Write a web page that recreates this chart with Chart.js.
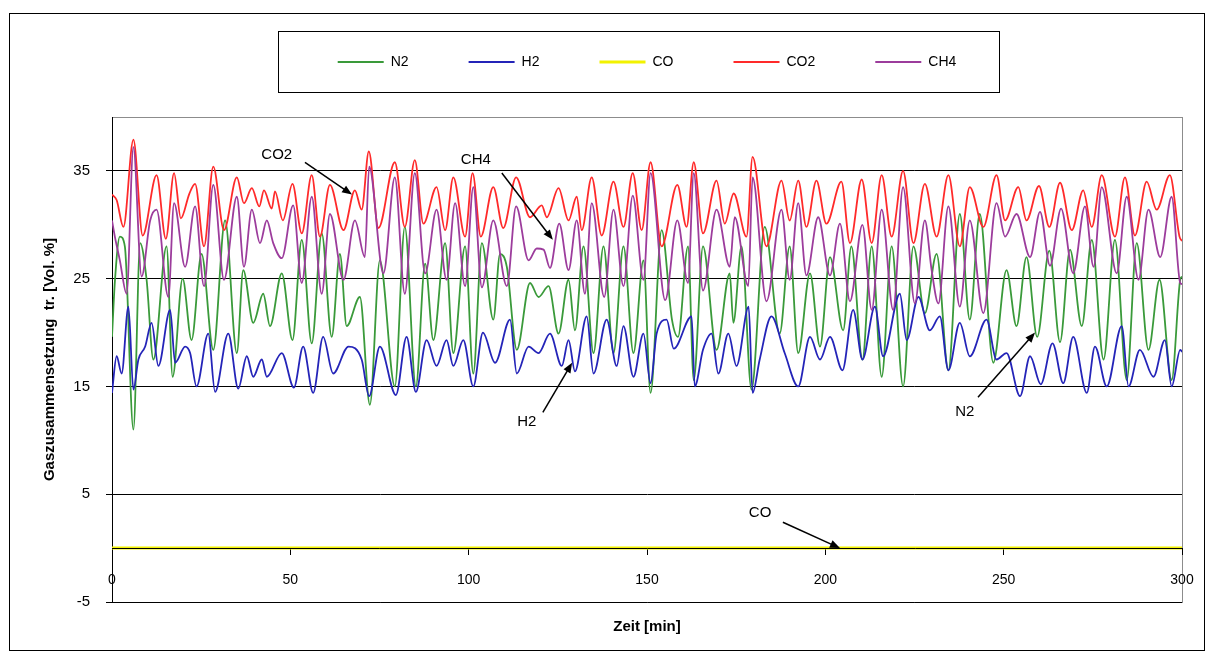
<!DOCTYPE html>
<html><head><meta charset="utf-8">
<script src="https://cdn.jsdelivr.net/npm/chart.js@4/dist/chart.umd.min.js"></script>
<style>html,body{margin:0;padding:0;background:#fff;}canvas{display:block;}</style>
</head><body>
<canvas id="c" width="1213" height="658"></canvas>
<script>
// ---------- data (time in min, composition in Vol.-%) ----------
const seriesNames = ['N2', 'H2', 'CO', 'CO2', 'CH4'];

const n2Time = [0,0.8,2.2,3.6,6,7.9,9.7,11.6,15.3,17,19.8,22.3,25.1,28.4,31.7,35,36.8,39.6,42.4,44.3,47.6,50.6,53.2,56,58.8,61.6,63.9,65.8,69.5,72.3,75.1,79.3,82.1,85.2,87.8,90.1,93.4,95.7,99,101.3,103.7,106.9,108.8,110.7,113.5,117.2,119.6,122.4,125.2,128,129.8,132.2,135,137.8,140.6,143.4,146.2,149,151,154.1,157,158.7,161.5,163.1,165.7,169.5,173.2,174.2,176.5,179.3,183,187.2,190,192.4,195.7,198.5,201.3,205,207.3,210.4,213,215.8,218.6,221.8,224.7,227.9,231.2,234.5,237.7,240.5,243.3,247.1,250.8,253.6,256.4,259.4,262.8,265.8,268.6,271.9,274.7,278,281.2,284.5,287.3,290.6,293.7,297.1,299.5,300];
const n2Vol = [19.6,24.7,28.9,28.0,11.0,28.3,24.9,17.5,28.0,15.9,25.0,19.3,27.3,18.4,30.4,18.1,25.8,20.9,23.6,20.6,25.5,19.3,28.6,19.0,29.2,19.6,27.3,20.6,23.3,13.3,26.7,15.0,29.8,15.0,26.4,19.3,28.3,18.1,28.0,16.2,28.3,21.2,27.3,26.1,18.4,24.6,23.3,24.3,19.9,24.9,20.2,28.0,18.1,28.0,18.1,28.0,18.1,26.7,14.4,29.5,21.2,19.6,28.0,15.6,28.0,18.4,25.5,20.9,28.0,14.7,29.8,19.9,28.0,18.1,25.5,18.7,27.0,20.2,28.0,17.5,28.0,15.9,28.0,15.0,28.0,21.8,27.3,16.5,31.0,21.2,31.0,17.2,25.8,20.6,27.0,19.6,27.6,19.1,27.7,20.6,28.6,17.5,28.6,15.6,28.3,18.4,24.9,15.6,24.9,25.2];

const h2Time = [0,1.3,2.7,4.6,6,7.4,9.3,11.1,13,16.3,17.7,20.5,21.9,23.7,27,28.9,32.6,35.4,37.8,39.6,42,43.4,47.6,51,53.6,56.4,59.2,62,66.3,70,72.1,75.1,79.6,82.6,85.2,88.2,91,93.8,95.7,98.5,101.3,104,107.4,111.6,113.5,116.8,119.6,122.8,126.1,128,129.8,133.1,135,138.7,141.5,143.4,146.2,149,151,152.7,155.5,157.5,162.5,163.4,165.7,168.1,170,172.8,175.1,178.5,179.6,181.6,184.9,188.6,192.4,195.7,198.5,201.3,204.8,207.8,210.4,213.9,216.2,220.9,222.8,226.1,229.3,232.1,234.5,237.7,240.5,245.2,248,250.8,254.6,257.4,260.4,263.7,266.7,269.5,273.3,275.6,278.9,283.1,285,288.2,292,295.2,297.1,299.5,300];
const h2Vol = [14.4,17.8,16.2,22.4,14.7,17.5,18.7,20.9,16.9,22.1,17.2,18.7,18.1,15.0,19.9,14.5,19.9,14.8,17.8,15.9,17.5,15.9,18.1,14.9,18.7,14.4,19.6,16.2,18.7,17.5,14.1,18.7,14.2,19.6,14.5,19.3,16.9,19.3,16.9,19.3,15.0,20.0,17.2,21.2,16.2,18.7,18.1,19.9,16.9,19.3,16.4,21.5,16.2,21.2,16.9,20.6,15.9,19.9,15.3,19.9,21.2,18.5,21.5,15.0,18.4,19.9,16.2,19.9,16.9,22.4,14.4,17.5,21.5,18.1,15.0,19.6,17.5,19.6,16.5,22.1,17.5,22.4,17.8,23.6,19.3,23.3,20.2,21.5,16.5,20.9,17.8,21.2,17.5,18.1,14.1,17.8,15.2,19.0,15.3,19.6,14.4,18.7,15.0,20.6,15.0,18.4,15.9,19.3,15.0,18.4,18.2];

const coTime = [0,50,100,150,200,250,300];
const coVol = [0,0,0,0,0,0,0];

const co2Time = [0,1.3,3.2,6,8.6,12.5,15.1,17.4,19.3,21.7,23.3,25.8,28.4,31.4,35,37,39.2,41.3,42.6,44.8,45.7,47.9,50.6,53.2,56,58.3,61.1,64.9,68.1,70,72,74.7,79.3,82.1,84.9,87.3,91,93.4,95.7,99,101.1,103.4,106.9,109.7,113.3,117.2,120.5,121.9,125.2,128,130.3,131.7,134.5,137.3,140.6,143.4,146,148.5,151,154.1,158.5,161.1,163.1,165.7,169.5,171.8,174.3,177.9,179.6,183.5,187.7,190,192.4,194.7,197.5,200.3,204.5,206.9,210.2,213,215.8,218.6,221.8,224.7,227.9,231.2,234.5,237.7,240.5,244.3,248,250.4,254.1,256.4,259.9,262.8,265.8,269.1,272.3,274.7,277.5,281.2,284,286.8,290.1,292.9,296.6,299.3,300];
const co2Vol = [32.8,32.3,29.8,37.9,29.0,34.6,28.7,34.8,30.6,32.9,33.8,28.0,35.4,29.5,34.4,32.0,33.4,31.7,33.2,31.5,33.1,30.4,33.8,29.2,34.6,28.9,33.7,29.5,33.2,31.4,36.8,29.7,35.8,29.8,36.0,30.1,33.5,29.5,34.4,28.9,34.8,28.9,33.5,29.7,34.4,30.7,31.8,30.7,33.4,30.4,32.6,29.5,34.4,29.0,34.0,29.8,34.8,29.5,35.8,28.0,33.7,29.8,35.8,29.2,34.1,30.1,32.9,28.9,36.3,28.0,34.1,30.4,34.1,29.8,34.1,30.1,34.0,28.3,34.2,28.3,34.6,28.9,35.0,28.3,33.8,28.9,34.6,28.0,33.5,29.8,34.6,30.4,33.5,30.4,33.6,29.8,33.9,29.5,33.2,29.8,34.6,28.9,34.4,29.0,34.0,31.4,34.6,28.9,28.5];

const ch4Time = [0,0.8,2.2,4.1,6,8.3,10.7,12.5,15.8,17.4,20.5,23.3,25.8,28.4,31.4,35,37,39.2,41.5,43.4,45.2,47.6,50.8,53.2,56,58.8,61.1,64.9,68.1,70.9,72.1,76.1,79.3,82.1,84.9,87.8,91,93.8,96.2,99,101.3,103.7,106.9,110.7,113.3,116.8,119.1,121,122.8,125.4,128,130.3,132.6,134.5,138,140.6,143.4,146,149,151,155.1,158.5,161.5,163.1,165.7,169.5,173.2,174.6,178.4,179.6,183.5,187.7,190,192.4,194.7,198,201.3,204.1,206.9,210.4,213,215.8,219,221.8,225.1,227.9,229.8,231.7,234.5,237.7,240.5,244.3,248,250.4,253.6,257.4,260.2,263,266.1,269.5,272.8,275.2,277.5,281.7,284.5,287.8,290.6,293.9,297.1,299.5,300];
const ch4Vol = [30.4,28.9,26.7,23.6,37.2,25.2,30.4,31.4,23.3,32.0,26.1,31.7,24.3,33.7,24.9,32.6,26.1,31.4,28.3,30.4,28.3,26.9,31.8,24.6,32.6,23.6,31.0,24.9,30.4,27.0,35.4,25.5,34.4,23.6,34.8,25.5,31.4,24.9,32.0,24.3,33.5,24.2,30.4,24.3,31.7,26.7,27.8,27.7,26.0,30.1,25.8,30.4,23.6,32.0,23.3,31.4,24.3,32.7,24.9,34.8,23.0,30.4,24.6,34.8,23.9,31.4,26.1,30.7,24.3,34.4,22.9,31.4,24.9,32.0,25.3,30.7,25.3,30.1,22.9,30.0,22.1,31.4,22.1,33.5,22.7,30.4,25.8,22.7,31.7,22.4,30.4,21.8,32.0,28.9,31.0,27.0,31.2,26.2,31.5,25.5,31.7,26.1,33.5,25.5,32.6,24.9,31.4,27.0,32.6,24.6,24.5];

const yTickValues = [-5, 5, 15, 25, 35];
const xTickStep = 50;

// callouts: label, text anchor (time, value), arrow start, arrow end
const calloutLabels = ['CO2', 'CH4', 'H2', 'N2', 'CO'];
const calloutText  = [[46.2, 36.5], [102, 36.0], [116.3, 11.7], [239.1, 12.6], [181.7, 3.3]];
const calloutFrom  = [[54.1, 35.8], [109.3, 34.8], [120.8, 12.6], [242.8, 14.0], [188.1, 2.4]];
const calloutTo    = [[67.3, 32.8], [123.6, 28.6], [129.0, 17.2], [258.8, 20.0], [204.1, 0.0]];

// ---------- styling ----------
const FONT = "'Liberation Sans', Arial, sans-serif";
const colors = {N2: '#3a9a3a', H2: '#2424b8', CO: '#f2f200', CO2: '#ff2a2a', CH4: '#9c3c9c'};

function toPoints(t, v) { return t.map((x, i) => ({x: x, y: v[i]})); }
const seriesData = {
  N2: toPoints(n2Time, n2Vol), H2: toPoints(h2Time, h2Vol), CO: toPoints(coTime, coVol),
  CO2: toPoints(co2Time, co2Vol), CH4: toPoints(ch4Time, ch4Vol)
};

const datasets = seriesNames.map((name, i) => ({
  label: name,
  data: seriesData[name],
  borderColor: colors[name],
  backgroundColor: colors[name],
  borderWidth: name === 'CO' ? 3 : 1.8,
  pointRadius: 0,
  cubicInterpolationMode: 'monotone',
  tension: 0.4,
  order: seriesNames.length - i
}));

const LEGEND_TEXT_Y = 62;

const framePlugin = {
  id: 'frame',
  beforeDraw(chart) {
    const {ctx, chartArea: a} = chart;
    ctx.save();
    ctx.strokeStyle = '#000'; ctx.lineWidth = 1;
    ctx.strokeRect(9.5, 13.5, 1195, 637);
    ctx.strokeStyle = '#8c8c8c';
    ctx.strokeRect(Math.round(a.left) + 0.5, Math.round(a.top) + 0.5, Math.round(a.right - a.left), Math.round(a.bottom - a.top));
    ctx.restore();
  }
};

const legendLayoutPlugin = {
  id: 'legendLayout',
  afterInit(chart) {
    const lg = chart.legend;
    const proto = Object.getPrototypeOf(lg);
    lg.fit = function () { proto.fit.call(this); this.height = 117; };
  },
  afterLayout(chart) {
    const lg = chart.legend;
    const fs = lg.options.labels.font.size;
    lg.top = LEGEND_TEXT_Y - lg.options.labels.padding - fs / 2;
  },
  afterDraw(chart) {
    const lg = chart.legend;
    const hb = lg.legendHitBoxes;
    if (!hb || !hb.length) return;
    const first = hb[0], last = hb[hb.length - 1];
    const ctx = chart.ctx;
    ctx.save();
    ctx.strokeStyle = '#000'; ctx.lineWidth = 1;
    const l = Math.round(first.left - 60) + 0.5, r = Math.round(last.left + last.width + 43) + 0.5;
    ctx.strokeRect(l, 31.5, r - l, 61);
    ctx.restore();
  }
};

const calloutPlugin = {
  id: 'callouts',
  afterDatasetsDraw(chart) {
    const {ctx, scales: {x, y}} = chart;
    ctx.save();
    ctx.font = '15px ' + FONT;
    ctx.fillStyle = '#000';
    ctx.strokeStyle = '#000';
    ctx.textAlign = 'center';
    ctx.textBaseline = 'middle';
    calloutLabels.forEach((lab, i) => {
      ctx.fillText(lab, x.getPixelForValue(calloutText[i][0]), y.getPixelForValue(calloutText[i][1]));
      const x1 = x.getPixelForValue(calloutFrom[i][0]), y1 = y.getPixelForValue(calloutFrom[i][1]);
      const x2 = x.getPixelForValue(calloutTo[i][0]), y2 = y.getPixelForValue(calloutTo[i][1]);
      const ang = Math.atan2(y2 - y1, x2 - x1);
      const hl = 10, hw = 4;
      ctx.lineWidth = 1.5;
      ctx.beginPath();
      ctx.moveTo(x1, y1);
      ctx.lineTo(x2 - Math.cos(ang) * hl * 0.8, y2 - Math.sin(ang) * hl * 0.8);
      ctx.stroke();
      ctx.beginPath();
      ctx.moveTo(x2, y2);
      ctx.lineTo(x2 - Math.cos(ang) * hl - Math.sin(ang) * hw, y2 - Math.sin(ang) * hl + Math.cos(ang) * hw);
      ctx.lineTo(x2 - Math.cos(ang) * hl + Math.sin(ang) * hw, y2 - Math.sin(ang) * hl - Math.cos(ang) * hw);
      ctx.closePath();
      ctx.fill();
    });
    ctx.restore();
  }
};

new Chart(document.getElementById('c'), {
  type: 'line',
  data: {datasets},
  options: {
    responsive: false,
    animation: false,
    devicePixelRatio: 1,
    layout: {padding: {left: 0, right: 31, top: 0, bottom: 0}},
    plugins: {
      tooltip: {enabled: false},
      legend: {
        position: 'top',
        fullSize: false,
        labels: {
          usePointStyle: true,
          pointStyle: 'line',
          pointStyleWidth: 46,
          padding: 60,
          color: '#000',
          font: {family: FONT, size: 14},
          sort: (a, b) => a.datasetIndex - b.datasetIndex
        }
      }
    },
    scales: {
      x: {
        type: 'linear', position: 'bottom', min: 0, max: 300,
        afterFit(s) { s.height = 56; },
        ticks: {display: false},
        grid: {display: false},
        border: {display: false},
        title: {display: true, text: 'Zeit [min]', color: '#000',
                font: {family: FONT, size: 15, weight: 'bold'}, padding: {top: 0, bottom: 22}}
      },
      x2: {
        type: 'linear', position: {y: 0}, min: 0, max: 300,
        ticks: {stepSize: xTickStep, color: '#000', font: {family: FONT, size: 14}, padding: 18, maxRotation: 0},
        grid: {drawOnChartArea: false, tickLength: 6, color: '#000'},
        border: {display: true, color: '#000', width: 1, z: 1}
      },
      y: {
        type: 'linear', position: 'left', min: -5, max: 40,
        afterFit(s) { s.width = 112; },
        afterBuildTicks(s) { s.ticks = yTickValues.map(v => ({value: v})); },
        ticks: {color: '#000', font: {family: FONT, size: 15}, padding: 16},
        grid: {color: '#000', lineWidth: 1, tickLength: 6},
        border: {display: true, color: '#000', width: 1},
        title: {display: true, text: 'Gaszusammensetzung  tr. [Vol. %]', color: '#000',
                font: {family: FONT, size: 15, weight: 'bold'}, padding: {top: 41, bottom: 0}}
      }
    }
  },
  plugins: [framePlugin, legendLayoutPlugin, calloutPlugin]
});
</script>
</body></html>
